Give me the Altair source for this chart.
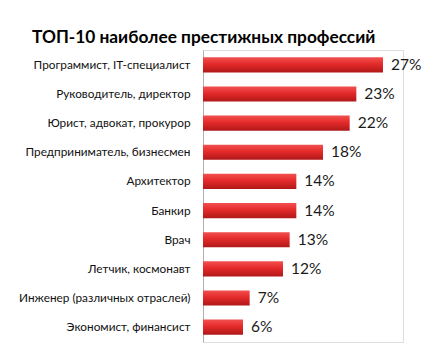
import altair as alt
import pandas as pd

categories = [
    "Программист, IT-специалист",
    "Руководитель, директор",
    "Юрист, адвокат, прокурор",
    "Предприниматель, бизнесмен",
    "Архитектор",
    "Банкир",
    "Врач",
    "Летчик, космонавт",
    "Инженер (различных отраслей)",
    "Экономист, финансист",
]
values = [27, 23, 22, 18, 14, 14, 13, 12, 7, 6]
labels = [f"{v}%" for v in values]

df = pd.DataFrame({"cat": categories, "val": values, "lab": labels})

FONT = "Lato"

y_enc = alt.Y("cat:N", sort=categories, title=None,
              scale=alt.Scale(paddingInner=0.48, paddingOuter=0.25),
              axis=alt.Axis(domain=True, domainColor="#b0b0b0", domainWidth=1,
                            ticks=False, labelPadding=13, labelFontSize=11.8,
                            labelFont=FONT, labelColor="#111111", labelLimit=250))
x_enc = alt.X("val:Q", title=None, scale=alt.Scale(domain=[0, 30]), axis=None)

bars = alt.Chart(df).mark_bar(
    cornerRadius=0,
    color=alt.Gradient(
        gradient="linear", x1=0, x2=0, y1=0, y2=1,
        stops=[alt.GradientStop(color="#f25050", offset=0),
               alt.GradientStop(color="#e42a2a", offset=0.45),
               alt.GradientStop(color="#b01818", offset=1)],
    ),
).encode(x=x_enc, y=y_enc)

text = alt.Chart(df).mark_text(align="left", baseline="middle", dx=8,
                               fontSize=15.5, font=FONT, color="#1a1a1a").encode(
    x=alt.X("val:Q"), y=alt.Y("cat:N", sort=categories), text="lab:N")

chart = alt.layer(bars, text).properties(
    width=200, height=292,
    autosize=alt.AutoSizeParams(type="none"),
    padding={"left": 195, "top": 42, "right": 23, "bottom": 7},
    title=alt.TitleParams("ТОП-10 наиболее престижных профессий", anchor="start",
                          frame="group", dx=-171, offset=4, fontSize=17.3, font=FONT,
                          fontWeight="bold", color="#000000"),
).configure_view(stroke=None).configure(background="white")

chart.save("out.html", embed_options={"renderer": "svg", "actions": False})
